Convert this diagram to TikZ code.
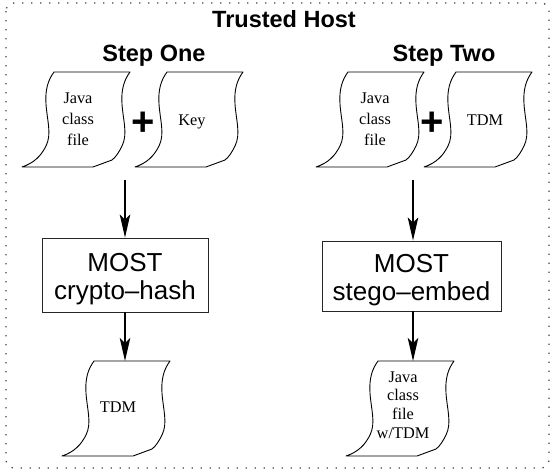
\documentclass[tikz,border=0pt]{standalone}
\usepackage{fontspec}
\setmainfont{Liberation Serif}
\setsansfont{Liberation Sans}
\usetikzlibrary{arrows.meta}
\newcommand\mysheet[2]{%
\draw[sheetline, shift={(#1,#2)}] (-32,95) -- (39,95) -- (58,88)
 .. controls (62,85) and (65,80) .. (68,74)
 .. controls (74,62) and (69,48) .. (68,32)
 .. controls (67,18) and (70,8) .. (76,0) -- (0,0)
 .. controls (-6,8) and (-9,18) .. (-8,32)
 .. controls (-7,48) and (-2,62) .. (-8,74)
 .. controls (-13,84) and (-20,91) .. cycle;}
\begin{document}
\begin{tikzpicture}[x=1pt,y=-1pt,
  sheetline/.style={line width=0.9pt, line join=round},
  sheettext/.style={font=\fontsize{16.3}{21}\selectfont, align=center, inner sep=0pt},
  title/.style={font=\sffamily\bfseries\fontsize{23.5}{26}\selectfont, anchor=base, inner sep=0pt},
  plus/.style={font=\sffamily\bfseries\fontsize{40}{40}\selectfont, inner sep=0pt},
  procbox/.style={draw=black!85, line width=0.9pt, font=\sffamily\fontsize{26}{27.5}\selectfont, align=center, inner sep=2pt},
  arr/.style={line width=1.3pt, -{Stealth[length=23pt,width=10.5pt,inset=5pt]}},
  hostbox/.style={draw=black!75, line width=1.3pt, dash pattern=on 1.3pt off 7.7pt, rounded corners=8pt}]
\useasboundingbox (0,0) rectangle (553,471);
\draw[hostbox] (6,3) rectangle (549,468);
\node[title] (host) at (284,27) {Trusted Host};
\node[title] (s1) at (154,61) {Step One};
\node[title] (s2) at (444,61) {Step Two};
% step one
\mysheet{54}{72}
\mysheet{167}{72}
\node[sheettext] (jcf1) at (78,119) {Java\\class\\file};
\node[sheettext] (key) at (192,121.5) {Key};
\node[plus] (p1) at (143,124) {+};
\coordinate (in1) at (125,180);
\node[procbox, minimum width=166pt, minimum height=74pt] (hash) at (125,275) {\rule{0pt}{26.4pt}MOST\\crypto–hash};
\mysheet{94}{361}
\coordinate (out1) at (125,361);
\node[sheettext] (tdm1) at (118,407) {TDM};
\draw[arr] (in1) -- (hash.north);
\draw[arr] (hash.south) -- (out1);
% step two
\mysheet{348}{72}
\mysheet{456}{72}
\node[sheettext] (jcf2) at (375,119) {Java\\class\\file};
\node[sheettext] (tdm2) at (485,120) {TDM};
\node[plus] (p2) at (432,124) {+};
\coordinate (in2) at (413,180);
\node[procbox, minimum width=179pt, minimum height=70pt] (embed) at (411.5,276) {\rule{0pt}{26pt}MOST\\stego–embed};
\mysheet{378}{361}
\coordinate (out2) at (413,361);
\node[sheettext, font=\fontsize{16.3}{18.7}\selectfont] (jcf3) at (403,405) {Java\\class\\file\\w/TDM};
\draw[arr] (in2) -- (in2 |- embed.north);
\draw[arr] (in2 |- embed.south) -- (out2);
\end{tikzpicture}
\end{document}
